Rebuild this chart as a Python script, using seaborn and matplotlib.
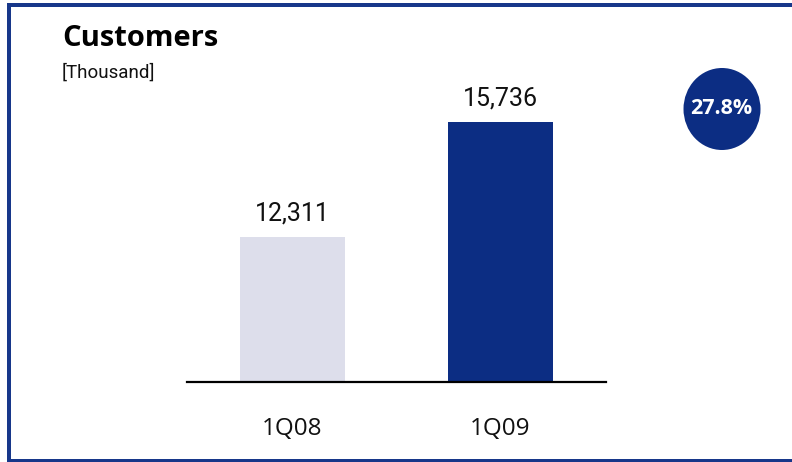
import matplotlib
matplotlib.use("Agg")
import matplotlib.pyplot as plt
from matplotlib.lines import Line2D
from matplotlib.patches import Ellipse
import seaborn as sns
import pandas as pd

# Data
quarters = ["1Q08", "1Q09"]
customers = [12311, 15736]
growth_label = "27.8%"
title = "Customers"
unit = "[Thousand]"

light_bar = "#dddeeb"
dark_blue = "#0c2d83"
frame_blue = "#17378a"

sns.set_theme(style="white")
plt.rcParams["font.family"] = ["Open Sans", "DejaVu Sans"]

W, H = 792, 462
fig = plt.figure(figsize=(W / 100, H / 100), dpi=100)

# axes placed in pixel terms: baseline y=382, spanning x 187..606
ax = fig.add_axes([187 / W, (H - 382) / H, 419 / W, 322 / H])

df = pd.DataFrame({"quarter": quarters, "customers": customers})
sns.barplot(data=df, x="quarter", y="customers", hue="quarter",
            palette=[light_bar, dark_blue], width=0.505, legend=False,
            ax=ax, saturation=1, linewidth=0)

ax.set_xlim(-0.507, 1.507)
ax.set_ylim(8000, 17590)
ax.set_xlabel("")
ax.set_ylabel("")
ax.set_yticks([])
for s in ["top", "right", "left"]:
    ax.spines[s].set_visible(False)
ax.spines["bottom"].set_color("black")
ax.spines["bottom"].set_linewidth(1.6)
ax.tick_params(axis="x", length=0, pad=25, labelsize=17.5, labelcolor="#111111")
for lbl in ax.get_xticklabels():
    lbl.set_fontfamily(["Open Sans", "DejaVu Sans"])

# value labels above bars
for i, v in enumerate(customers):
    ax.annotate(f"{v:,}", xy=(i, v), xytext=(0, 17), textcoords="offset points",
                ha="center", va="center", fontsize=18, color="#111111",
                family=["Roboto", "DejaVu Sans"])

# title and unit
fig.text(62 / W, 1 - 38 / H, title, ha="left", va="center", fontsize=21,
         fontweight="bold", color="black", family=["Open Sans", "DejaVu Sans"])
fig.text(62 / W, 1 - 73 / H, unit, ha="left", va="center", fontsize=13.5,
         color="#111111", family=["Liberation Sans Narrow", "Roboto", "DejaVu Sans"])

# growth badge
badge = Ellipse((722 / W, 1 - 109 / H), 77 / W, 82 / H, transform=fig.transFigure,
                facecolor=dark_blue, edgecolor="none")
fig.patches.append(badge)
fig.text(721 / W, 1 - 109 / H, growth_label, ha="center", va="center",
         fontsize=15.5, fontweight="bold", color="white",
         family=["Open Sans", "DejaVu Sans"])

# frame (left, top, bottom edges)
lw = 4 * 72 / 100
fig.lines.append(Line2D([9 / W, 9 / W], [0, 1 - 3 / H], transform=fig.transFigure,
                        color=frame_blue, linewidth=lw, solid_capstyle="butt"))
fig.lines.append(Line2D([7 / W, 1], [1 - 5 / H, 1 - 5 / H], transform=fig.transFigure,
                        color=frame_blue, linewidth=lw, solid_capstyle="butt"))
fig.lines.append(Line2D([7 / W, 1], [1 - 460.5 / H, 1 - 460.5 / H],
                        transform=fig.transFigure, color=frame_blue, linewidth=lw,
                        solid_capstyle="butt"))

fig.savefig("out.png", dpi=100, facecolor="white")
